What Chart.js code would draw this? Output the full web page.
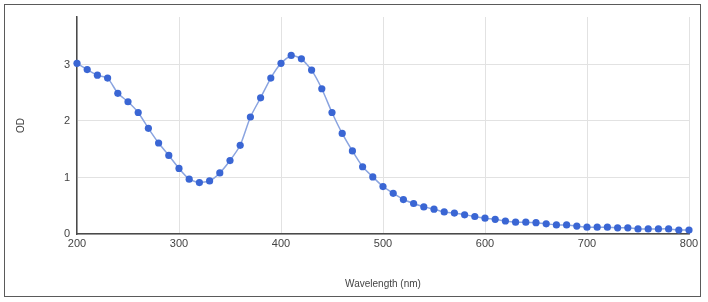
<!DOCTYPE html>
<html>
<head>
<meta charset="utf-8">
<script src="https://cdn.jsdelivr.net/npm/chart.js@4"></script>
<style>
  body { margin: 0; background: #fff; }
  #wrap { position: relative; width: 708px; height: 302px; }
  #frame { position: absolute; left: 4px; top: 4px; width: 695px; height: 291px; border: 1.5px solid #5a5a5a; pointer-events: none; }
</style>
</head>
<body>
<div id="wrap">
  <canvas id="grafico" width="708" height="302"></canvas>
  <div id="frame"></div>
</div>
<script>
const wavelengths = [
  200, 210, 220, 230, 240, 250, 260, 270, 280, 290,
  300, 310, 320, 330, 340, 350, 360, 370, 380, 390,
  400, 410, 420, 430, 440, 450, 460, 470, 480, 490,
  500, 510, 520, 530, 540, 550, 560, 570, 580, 590,
  600, 610, 620, 630, 640, 650, 660, 670, 680, 690,
  700, 710, 720, 730, 740, 750, 760, 770, 780, 790,
  800
];
const od = [
  3.02, 2.91, 2.81, 2.76, 2.49, 2.34, 2.15, 1.87, 1.61, 1.39,
  1.16, 0.97, 0.91, 0.94, 1.08, 1.30, 1.57, 2.07, 2.41, 2.76,
  3.02, 3.16, 3.10, 2.90, 2.57, 2.15, 1.78, 1.47, 1.19, 1.01,
  0.84, 0.72, 0.61, 0.54, 0.48, 0.44, 0.39, 0.37, 0.34, 0.31,
  0.28, 0.26, 0.23, 0.21, 0.21, 0.20, 0.18, 0.16, 0.16, 0.14,
  0.12, 0.12, 0.12, 0.11, 0.11, 0.09, 0.09, 0.09, 0.09, 0.07,
  0.07
];
const xTicks = [200, 300, 400, 500, 600, 700, 800];
const yTicks = [0, 1, 2, 3];

const tickFont = { family: "'Liberation Sans', Arial, sans-serif", size: 11 };
const titleFont = { family: "'Liberation Sans', Arial, sans-serif", size: 10 };

new Chart(document.getElementById("grafico"), {
  type: "line",
  data: {
    datasets: [{
      data: wavelengths.map((w, i) => ({ x: w, y: od[i] })),
      borderColor: "#8aa4e0",
      borderWidth: 1.5,
      backgroundColor: "#3a66d4",
      pointBackgroundColor: "#3a66d4",
      pointBorderWidth: 0,
      pointRadius: 3.6,
      tension: 0.2,
      clip: false
    }]
  },
  options: {
    responsive: false,
    animation: false,
    layout: { padding: { left: 8, right: 19, top: 17, bottom: 9 } },
    plugins: { legend: { display: false }, tooltip: { enabled: false } },
    scales: {
      x: {
        type: "linear",
        min: 200,
        max: 800,
        afterBuildTicks: s => { s.ticks = xTicks.map(v => ({ value: v })); },
        afterFit: s => { s.height = 59; },
        ticks: { font: tickFont, color: "#444", padding: 3, maxRotation: 0 },
        grid: { color: "#e2e2e2", lineWidth: 1, drawTicks: false },
        border: { color: "#4a4a4a", width: 1.5 },
        title: { display: true, text: "Wavelength (nm)", font: titleFont, color: "#444", padding: { top: 0, bottom: 3 } }
      },
      y: {
        min: 0,
        max: 3.84,
        afterBuildTicks: s => { s.ticks = yTicks.map(v => ({ value: v })); },
        afterFit: s => { s.width = 69; },
        ticks: { font: tickFont, color: "#444", padding: 7 },
        grid: { color: "#e2e2e2", lineWidth: 1, drawTicks: false },
        border: { color: "#4a4a4a", width: 1.5 },
        title: { display: true, text: "OD", font: titleFont, color: "#444", padding: { top: 7, bottom: 0 } }
      }
    }
  }
});
</script>
</body>
</html>
